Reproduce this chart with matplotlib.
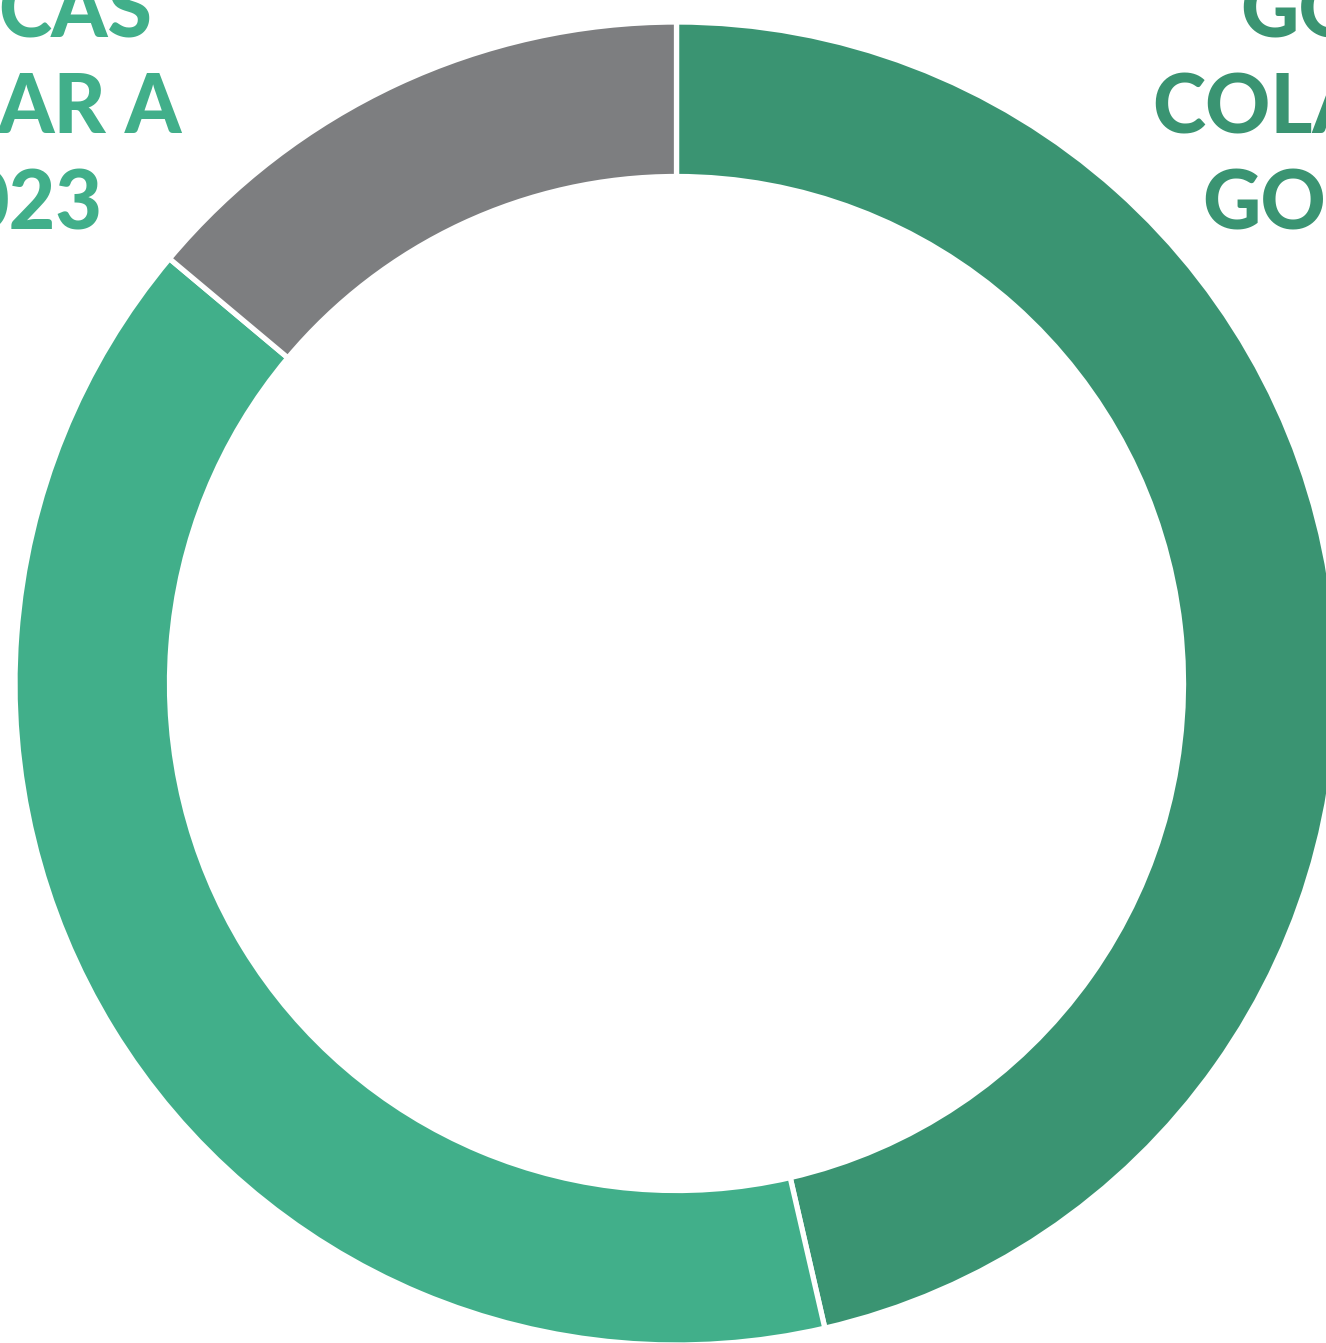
import matplotlib
matplotlib.use('Agg')
import matplotlib.pyplot as plt

# share of each segment, clockwise from 12 o'clock
segments = ['gobierno', 'otras', 'resto']
shares = [46.4, 39.7, 13.9]
colors = ['#3A9472', '#41AF8A', '#7D7E80']

# title fragments at the top corners (lines read top to bottom)
left_lines = ['CAS', 'AR A', '023']
right_lines = ['GO', 'COLA', 'GO']

W, H = 1326, 1343
fig = plt.figure(figsize=(W / 100, H / 100), dpi=100)
ax = fig.add_axes([0, 0, 1, 1])

cx, cy = 676.5, H - 683.5
outer, inner = 661.5, 507.0

ax.pie(shares, colors=colors, startangle=90, counterclock=False,
       center=(cx, cy), radius=outer, frame=True,
       wedgeprops=dict(width=outer - inner, edgecolor='white', linewidth=3.8))
ax.set_xlim(0, W)
ax.set_ylim(0, H)
ax.set_aspect('equal')
ax.axis('off')

font = dict(family=['Lato', 'DejaVu Sans'], weight='black', fontsize=58)
baselines = [37, 133, 230]
left_ends = [152, 182, 102]
right_starts = [1240, 1152, 1202]

for txt, y, x in zip(left_lines, baselines, left_ends):
    ax.text(x, H - y, txt, ha='right', va='baseline', color=colors[1], **font)
for txt, y, x in zip(right_lines, baselines, right_starts):
    ax.text(x, H - y, txt, ha='left', va='baseline', color=colors[0], **font)

fig.savefig('out.png', dpi=100)
